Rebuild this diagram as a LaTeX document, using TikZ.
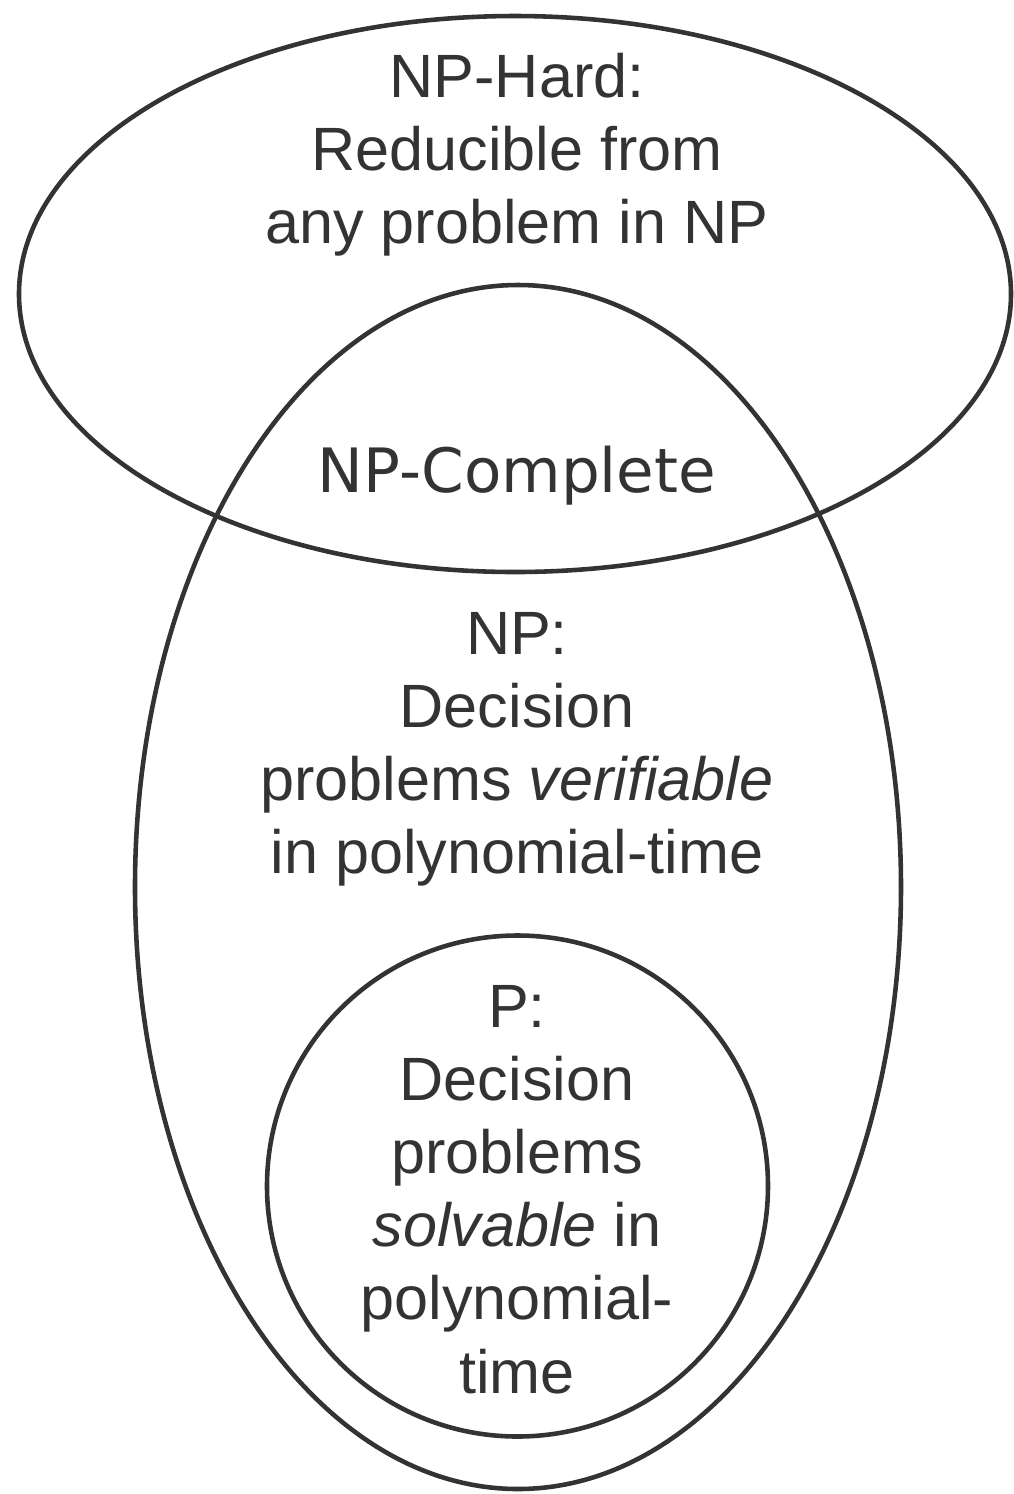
\documentclass[tikz,border=0pt]{standalone}
\usepackage{fontspec}
\setmainfont{Liberation Sans}
\newfontfamily\dejavu{DejaVu Sans}
\usepackage{xcolor}
\usepackage{tikz}
\usetikzlibrary{positioning}

\definecolor{ink}{HTML}{333333}

\begin{document}
\begin{tikzpicture}[
    set/.style={draw=ink, line width=1.3pt},
    lbl/.style={text=ink, align=center, inner sep=0pt,
                font=\fontsize{17.4}{20.8}\selectfont}
  ]
  \useasboundingbox (0,0) rectangle (10.14,-14.94);
  % Class boundaries.
  \draw[set] (5.15,-2.94)  ellipse [x radius=4.96, y radius=2.78];
  \draw[set] (5.18,-8.87)  ellipse [x radius=3.83, y radius=6.02];
  \draw[set] (5.175,-11.86) circle [radius=2.505];

  \node[lbl] (hard) at (5.17,-1.545) {NP-Hard:\\Reducible from\\any problem in NP};
  \node[lbl, font=\dejavu\fontsize{17.4}{20.8}\selectfont] (comp) at (5.17,-4.76) {NP-Complete};
  \node[lbl] (np) at (5.17,-7.49) {NP:\\Decision\\problems \emph{verifiable}\\in polynomial-time};
  \node[lbl] (p)  at (5.17,-11.895) {P:\\Decision\\problems\\\emph{solvable} in\\polynomial-\\time};
\end{tikzpicture}
\end{document}
